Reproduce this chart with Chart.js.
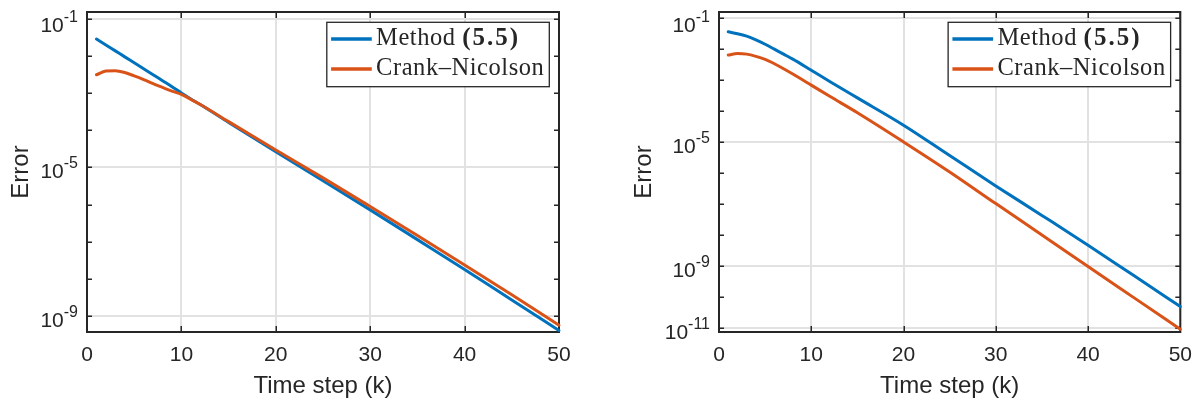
<!DOCTYPE html>
<html><head><meta charset="utf-8">
<script src="https://cdn.jsdelivr.net/npm/chart.js@4.4.1/dist/chart.umd.min.js"></script>
<style>
html,body{margin:0;padding:0;background:#fff;width:1203px;height:402px;overflow:hidden}
canvas{position:absolute;top:0}
#c1{left:0}
#c2{left:600px}
</style></head><body>
<canvas id="c1" width="600" height="402"></canvas>
<canvas id="c2" width="603" height="402"></canvas>
<script>
// ---------- data ----------
const timeStepsLeft = [1,2,3,4,5,6,7,8,9,10,11,12,15,20,25,30,35,40,45,50];
const methodErrLeft = [2.82e-2,1.95e-2,1.35e-2,9.33e-3,6.46e-3,4.47e-3,3.09e-3,2.14e-3,1.48e-3,1.00e-3,6.92e-4,4.90e-4,1.62e-4,2.63e-5,4.37e-6,7.24e-7,1.15e-7,1.82e-8,2.75e-9,4.17e-10];
const cnErrLeft     = [3.09e-3,3.89e-3,3.98e-3,3.55e-3,2.88e-3,2.29e-3,1.78e-3,1.41e-3,1.12e-3,9.12e-4,6.76e-4,4.90e-4,1.70e-4,2.95e-5,5.25e-6,8.91e-7,1.48e-7,2.40e-8,3.80e-9,5.75e-10];

const timeStepsRight = [1,2,3,4,5,6,7,8,10,12,15,20,25,30,35,40,45,50];
const methodErrRight = [3.47e-2,3.02e-2,2.51e-2,1.91e-2,1.38e-2,9.55e-3,6.61e-3,4.57e-3,2.00e-3,8.71e-4,2.57e-4,3.39e-5,3.55e-6,3.72e-7,4.17e-8,4.57e-9,4.68e-10,4.79e-11];
const cnErrRight     = [6.17e-3,6.92e-3,6.61e-3,5.62e-3,4.47e-3,3.24e-3,2.24e-3,1.51e-3,6.61e-4,2.88e-4,8.51e-5,9.77e-6,1.05e-6,1.00e-7,9.77e-9,9.33e-10,9.12e-11,8.91e-12];

const xTickValues = [0,10,20,30,40,50];
const leftYDecades  = [-1,-2,-3,-4,-5,-6,-7,-8,-9];
const rightYDecades = [-1,-2,-3,-4,-5,-6,-7,-8,-9,-10,-11];
const leftYLabelExps  = [-1,-5,-9];
const rightYLabelExps = [-1,-5,-9,-11];
const seriesNames = ['Method (5.5)', 'Crank\u2013Nicolson'];
const legendParts = [[['Method ', false], ['(5.5)', true]], [['Crank\u2013Nicolson', false]]];
const xTitle = 'Time step (k)';
const yTitle = 'Error';

// axis limits
const leftYMin = 3.80e-10, leftYMax = 0.1496;
const rightYMin = 7.24e-12, rightYMax = 0.151;

// ---------- styles ----------
const BLUE = '#0072BD', ORANGE = '#D95319';
const AX = '#262626', GRID = '#e2e2e2';
const SANS = '"Liberation Sans", Arial, Helvetica, sans-serif';
const SERIF = '"Liberation Serif", "Times New Roman", serif';
Chart.defaults.font.family = SANS;
Chart.defaults.color = AX;

function toPts(xs, ys){ return xs.map((x,i)=>({x:x, y:ys[i]})); }

function framePlugin(decades, labelExps){
  return {
    id: 'frame',
    beforeDatasetsDraw(chart){
      const ctx = chart.ctx, a = chart.chartArea, xs = chart.scales.x, ys = chart.scales.y;
      ctx.save();
      ctx.strokeStyle = AX; ctx.lineWidth = 1.5;
      ctx.beginPath();
      for (const d of decades){
        const py = Math.round(ys.getPixelForValue(Math.pow(10,d))) + 0.25;
        ctx.moveTo(a.left, py); ctx.lineTo(a.left+5, py);
        ctx.moveTo(a.right, py); ctx.lineTo(a.right-5, py);
      }
      for (const v of xTickValues){
        const px = Math.round(xs.getPixelForValue(v)) + 0.25;
        ctx.moveTo(px, a.bottom); ctx.lineTo(px, a.bottom-6);
        ctx.moveTo(px, a.top); ctx.lineTo(px, a.top+6);
      }
      ctx.stroke();
      ctx.lineWidth = 2;
      ctx.strokeRect(a.left, a.top, a.right-a.left, a.bottom-a.top);
      ctx.restore();
    },
    afterDraw(chart){
      const ctx = chart.ctx, a = chart.chartArea, ys = chart.scales.y;
      ctx.save();
      ctx.fillStyle = AX; ctx.textAlign = 'right'; ctx.textBaseline = 'alphabetic';
      for (const e of labelExps){
        const py = ys.getPixelForValue(Math.pow(10,e));
        const base = Math.max(py + 11, a.top + 19.7);
        const sup = String(e);
        ctx.font = '16px ' + SANS;
        const ws = ctx.measureText(sup).width;
        const xr = a.left - 9;
        ctx.fillText(sup, xr, base - 10);
        ctx.font = '21px ' + SANS;
        ctx.fillText('10', xr - ws, base);
      }
      // legend
      const w = 222.5, h = 64.4;
      const x0 = a.right - 9.7 - w, y0 = a.top + 10.3;
      ctx.fillStyle = '#fff'; ctx.fillRect(x0, y0, w, h);
      ctx.strokeStyle = AX; ctx.lineWidth = 1.3; ctx.strokeRect(x0, y0, w, h);
      const dsList = chart.data.datasets;
      for (let i = 0; i < legendParts.length; i++){
        const ds = dsList.find(d => d.label === seriesNames[i]);
        const ly = y0 + 16.7 + i*30;
        ctx.strokeStyle = ds.borderColor; ctx.lineWidth = 3.3; ctx.lineCap = 'butt';
        ctx.beginPath(); ctx.moveTo(x0+4.3, ly); ctx.lineTo(x0+45, ly); ctx.stroke();
        let tx = x0 + 49.3;
        ctx.textAlign = 'left'; ctx.fillStyle = AX;
        for (const [t, bold] of legendParts[i]){
          ctx.letterSpacing = bold ? '2px' : '0.55px';
          ctx.font = (bold ? 'bold 25px ' : '24.5px ') + SERIF;
          ctx.fillText(t, tx, ly + 6);
          tx += ctx.measureText(t).width;
        }
        ctx.letterSpacing = '0px';
      }
      ctx.restore();
    }
  };
}

function makeChart(id, xs, methodErr, cnErr, yMin, yMax, decades, labelExps, yWidth, padRight, yTitlePad){
  const labelSet = new Set(labelExps);
  return new Chart(document.getElementById(id), {
    type: 'line',
    data: {
      datasets: [
        { label: seriesNames[0], data: toPts(xs, methodErr), borderColor: BLUE, backgroundColor: BLUE,
          borderWidth: 3, pointRadius: 0, cubicInterpolationMode: 'monotone', order: 2, clip: false,
          borderCapStyle: 'round', borderJoinStyle: 'round' },
        { label: seriesNames[1], data: toPts(xs, cnErr), borderColor: ORANGE, backgroundColor: ORANGE,
          borderWidth: 3, pointRadius: 0, cubicInterpolationMode: 'monotone', order: 1, clip: false,
          borderCapStyle: 'round', borderJoinStyle: 'round' }
      ]
    },
    options: {
      responsive: false, animation: false, devicePixelRatio: 1,
      layout: { padding: { left: 0, top: 12, right: padRight, bottom: 0 } },
      plugins: { legend: { display: false }, tooltip: { enabled: false } },
      scales: {
        x: {
          type: 'linear', min: 0, max: 50,
          afterBuildTicks: s => { s.ticks = xTickValues.map(v => ({ value: v })); },
          afterFit: s => { s.height = 70; },
          grid: { color: GRID, lineWidth: 2, drawTicks: false },
          border: { display: false },
          ticks: { font: { size: 21 }, color: AX, padding: 11, maxRotation: 0, minRotation: 0 },
          title: { display: true, text: xTitle, font: { size: 24 }, color: AX, padding: { top: 0, bottom: 1 } }
        },
        y: {
          type: 'logarithmic', min: yMin, max: yMax,
          afterBuildTicks: s => { s.ticks = decades.map(d => ({ value: Math.pow(10, d) })); },
          afterFit: s => { s.width = yWidth; },
          grid: {
            lineWidth: 2, drawTicks: false,
            color: c => (c.tick && labelSet.has(Math.round(Math.log10(c.tick.value)))) ? GRID : 'rgba(0,0,0,0)'
          },
          border: { display: false },
          ticks: { display: false },
          title: { display: true, text: yTitle, font: { size: 24 }, color: AX, padding: { top: yTitlePad, bottom: 0 } }
        }
      }
    },
    plugins: [framePlugin(decades, labelExps)]
  });
}

makeChart('c1', timeStepsLeft, methodErrLeft, cnErrLeft, leftYMin, leftYMax, leftYDecades, leftYLabelExps, 87, 41, 7.3);
makeChart('c2', timeStepsRight, methodErrRight, cnErrRight, rightYMin, rightYMax, rightYDecades, rightYLabelExps, 119, 21, 29.6);
</script>
</body></html>
